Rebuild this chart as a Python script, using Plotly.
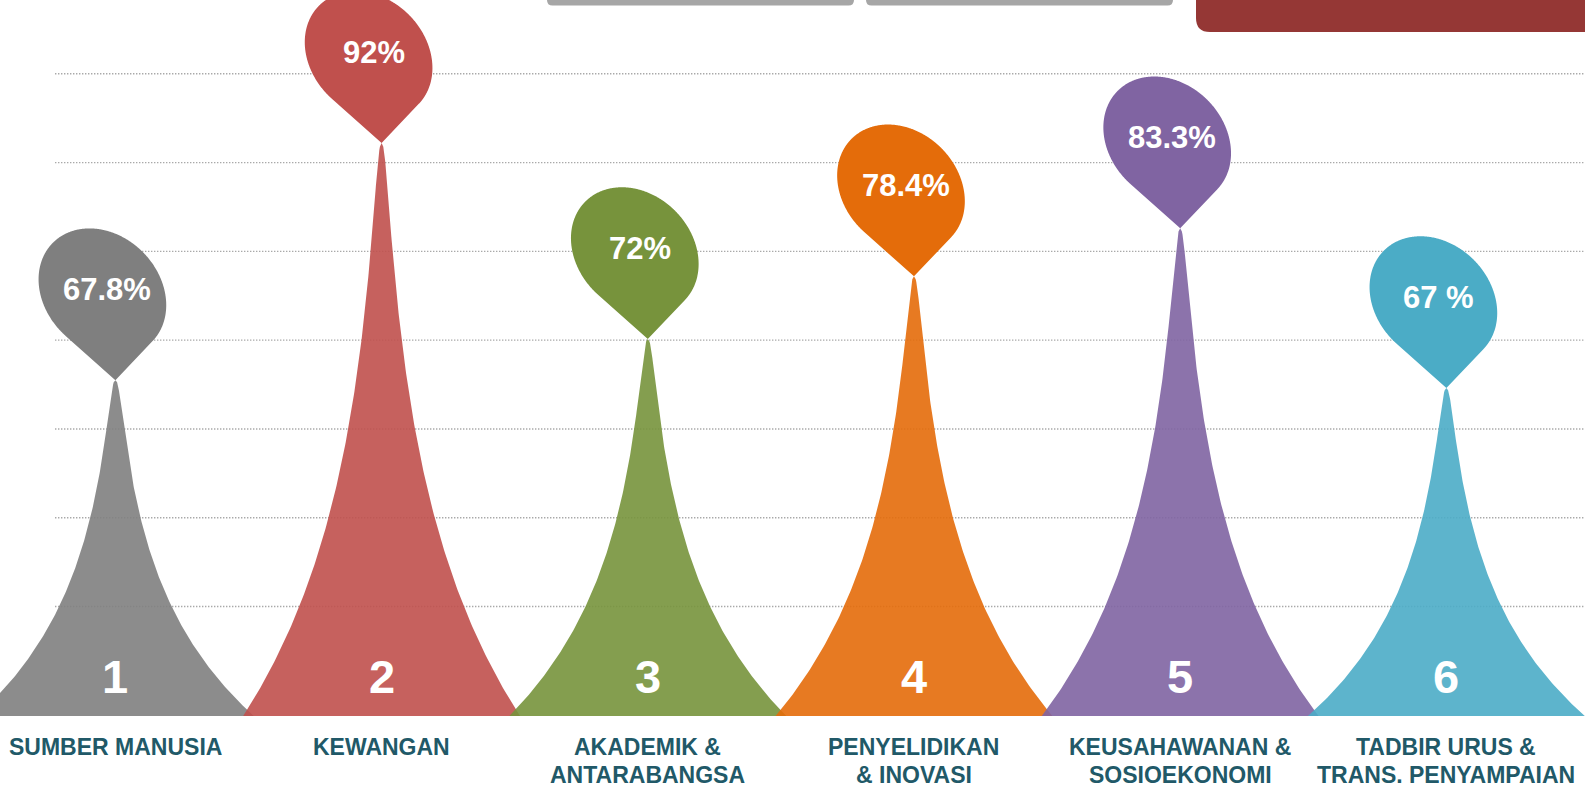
import numpy as np
import plotly.graph_objects as go

# ---------------- data ----------------
categories = [
    "SUMBER MANUSIA",
    "KEWANGAN",
    "AKADEMIK &<br>ANTARABANGSA",
    "PENYELIDIKAN<br>& INOVASI",
    "KEUSAHAWANAN &<br>SOSIOEKONOMI",
    "TADBIR URUS &<br>TRANS. PENYAMPAIAN",
]
numbers = ["1", "2", "3", "4", "5", "6"]
values = [67.8, 92, 72, 78.4, 83.3, 67]
value_labels = ["67.8%", "92%", "72%", "78.4%", "83.3%", "67 %"]

# ---------------- styles ----------------
colors = ["#7f7f7f", "#c0504d", "#77933c", "#e46c0a", "#8064a2", "#4bacc6"]
FONT = "Liberation Sans, Arial, sans-serif"
LABEL_COLOR = "#215968"
Y_MIN, Y_MAX = 33.54, 106.6
X_MIN, X_MAX = -0.4335, 5.5207
HALF_W = 0.52
GRID0, GRID_STEP, GRID_N = 44.71, 9.06, 7


def hex_rgba(h, a):
    h = h.lstrip("#")
    return "rgba(%d,%d,%d,%.2f)" % (int(h[0:2], 16), int(h[2:4], 16), int(h[4:6], 16), a)


def pin_path():
    s = np.linspace(0, 2 * np.pi, 720, endpoint=False)
    a, b, rot = 70.0, 57.0, np.deg2rad(-45)
    cx, cy = -13.0, 88.0
    ex, ey = a * np.cos(s), b * np.sin(s)
    px = cx + ex * np.cos(rot) - ey * np.sin(rot)
    py = cy + ex * np.sin(rot) + ey * np.cos(rot)
    phi = np.arctan2(py, px)
    i_r, i_l = int(np.argmin(phi)), int(np.argmax(phi))
    n = (i_l - i_r) % len(s) + 1
    idx = (i_r + np.arange(n)) % len(s)
    pts = " ".join("L%.2f,%.2f" % (px[k], py[k]) for k in idx)
    return "M0,0 " + pts + " Z"


PIN = pin_path()

fig = go.Figure()
t = np.linspace(0, 1, 160)
profile = np.exp(-2.24 * t) * (1 - t) ** 0.43

for i, (v, c) in enumerate(zip(values, colors)):
    hw = HALF_W * profile
    ys = Y_MIN + t * (v - Y_MIN)
    xs = np.concatenate([i - hw, (i + hw)[::-1]])
    yy = np.concatenate([ys, ys[::-1]])
    fig.add_trace(go.Scatter(
        x=xs, y=yy, mode="lines", fill="toself",
        fillcolor=hex_rgba(c, 0.9), line=dict(width=0),
        hoverinfo="skip", showlegend=False,
    ))

shapes = []
# dotted horizontal guide lines (start a little in from the left edge)
for k in range(GRID_N):
    gy = GRID0 + k * GRID_STEP
    shapes.append(dict(type="line", xref="paper", yref="y", x0=55 / 1585, x1=1, y0=gy, y1=gy,
                       line=dict(color="#a9a9a9", width=1.4, dash="1.4px,1.6px"), layer="below"))
for i, (v, c) in enumerate(zip(values, colors)):
    shapes.append(dict(type="path", xref="x", yref="y", xsizemode="pixel", ysizemode="pixel",
                       xanchor=i, yanchor=v, path=PIN, fillcolor=c, line=dict(width=0),
                       layer="above"))

# top decorative tabs
tabs = [
    ("M547,40 L547,0 Q547,-5.5 552.5,-5.5 L848.5,-5.5 Q854,-5.5 854,0 L854,40 Z", "#a6a6a6"),
    ("M866,40 L866,0 Q866,-5.5 871.5,-5.5 L1167.5,-5.5 Q1173,-5.5 1173,0 L1173,40 Z", "#a6a6a6"),
    ("M1196,40 L1196,-18 Q1196,-32 1210,-32 L1620,-32 L1620,40 Z", "#953735"),
]
for p, c in tabs:
    shapes.append(dict(type="path", xref="paper", yref="paper", xsizemode="pixel", ysizemode="pixel",
                       xanchor=0, yanchor=1, path=p, fillcolor=c, line=dict(width=0)))

annotations = []
for i, (v, lab) in enumerate(zip(values, value_labels)):
    annotations.append(dict(x=i, y=v, xref="x", yref="y", text=lab, showarrow=False,
                            xshift=-8, yshift=91,
                            font=dict(family=FONT, size=31, color="white", weight="bold")))
for i, num in enumerate(numbers):
    annotations.append(dict(x=i, y=Y_MIN, xref="x", yref="y", text=num, showarrow=False,
                            yanchor="middle", yshift=40,
                            font=dict(family=FONT, size=47, color="white", weight="bold")))
for i, cat in enumerate(categories):
    for j, line in enumerate(cat.split("<br>")):
        annotations.append(dict(x=i, y=0, xref="x", yref="paper", text=line, showarrow=False,
                                yanchor="middle", yshift=-31 - 28 * j,
                                font=dict(family=FONT, size=23, color=LABEL_COLOR, weight="bold")))

fig.update_layout(
    width=1585, height=790,
    margin=dict(l=0, r=0, t=0, b=74),
    paper_bgcolor="white", plot_bgcolor="white",
    showlegend=False,
    xaxis=dict(range=[X_MIN, X_MAX], showgrid=False, zeroline=False, showticklabels=False,
               showline=False, fixedrange=True),
    yaxis=dict(range=[Y_MIN, Y_MAX], showgrid=False, zeroline=False,
               showticklabels=False, showline=False, fixedrange=True),
    shapes=shapes,
    annotations=annotations,
)

fig.write_html("out.html", post_script="document.body.style.margin='0';",
               config={"displayModeBar": False})
